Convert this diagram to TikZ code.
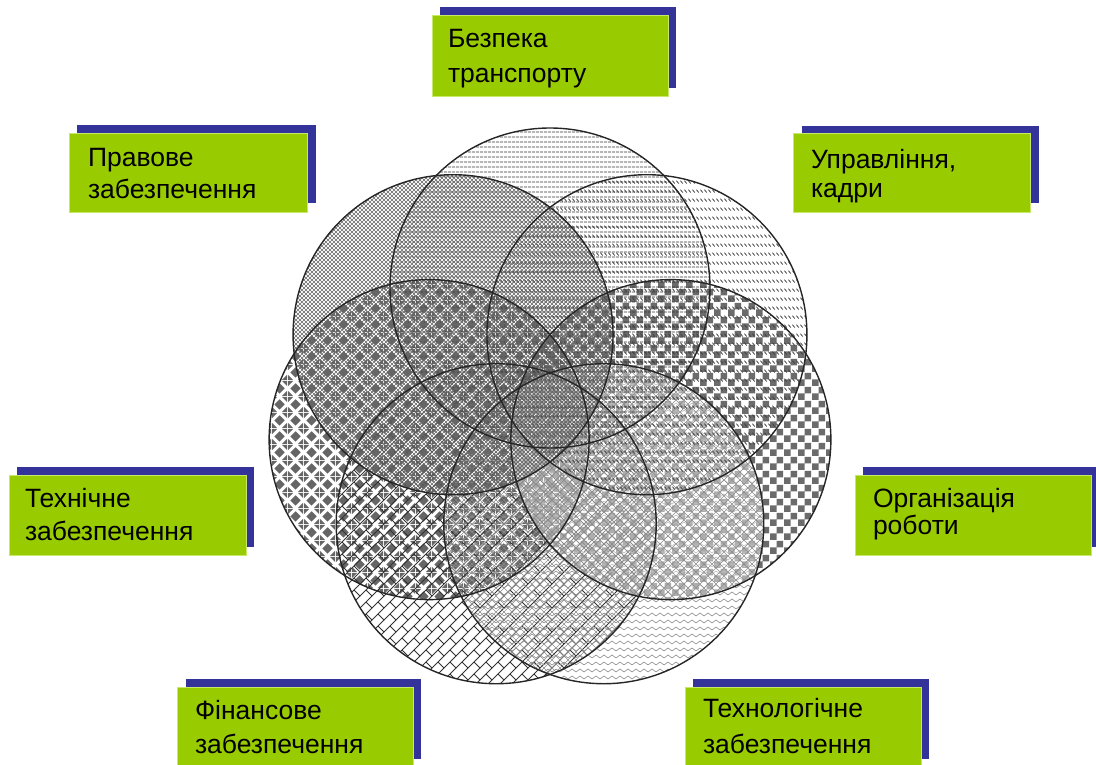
\documentclass[tikz,border=0pt]{standalone}
\usepackage{fontspec}
\setmainfont{Liberation Sans}
\usetikzlibrary{patterns,calc}
\definecolor{boxgreen}{HTML}{99CC00}
\definecolor{boxblue}{HTML}{333399}
\definecolor{boxedge}{HTML}{C8E86A}
\definecolor{ringline}{HTML}{262626}
% patterns (1pt = 1px)
\pgfdeclarepatternformonly{hlinesA}{\pgfpointorigin}{\pgfpoint{4pt}{4.5pt}}{\pgfpoint{4pt}{4.5pt}}{%
  \pgfsetlinewidth{1pt}%
  \pgfpathmoveto{\pgfpoint{0pt}{2.25pt}}\pgfpathlineto{\pgfpoint{4pt}{2.25pt}}\pgfusepath{stroke}}
\pgfdeclarepatternformonly{xhatchB}{\pgfpoint{-1pt}{-1pt}}{\pgfpoint{5pt}{5pt}}{\pgfpoint{4pt}{4pt}}{%
  \pgfsetlinewidth{0.6pt}%
  \pgfpathmoveto{\pgfpoint{0pt}{0pt}}\pgfpathlineto{\pgfpoint{4pt}{4pt}}%
  \pgfpathmoveto{\pgfpoint{0pt}{4pt}}\pgfpathlineto{\pgfpoint{4pt}{0pt}}%
  \pgfusepath{stroke}}
\pgfdeclarepatternformonly{dashC}{\pgfpointorigin}{\pgfpoint{4pt}{9pt}}{\pgfpoint{4pt}{9pt}}{%
  \pgfsetlinewidth{0.9pt}%
  \pgfpathmoveto{\pgfpoint{0.5pt}{8pt}}\pgfpathlineto{\pgfpoint{3.5pt}{5pt}}\pgfusepath{stroke}}
\pgfdeclarepatternformonly{checkD}{\pgfpointorigin}{\pgfpoint{14pt}{14pt}}{\pgfpoint{14pt}{14pt}}{%
  \pgfpathrectangle{\pgfpointorigin}{\pgfpoint{7pt}{7pt}}%
  \pgfpathrectangle{\pgfpoint{7pt}{7pt}}{\pgfpoint{7pt}{7pt}}%
  \pgfusepath{fill}}
\pgfdeclarepatternformonly{diamE}{\pgfpointorigin}{\pgfpoint{16pt}{16pt}}{\pgfpoint{16pt}{16pt}}{%
  \pgfpathmoveto{\pgfpoint{8pt}{2.5pt}}\pgfpathlineto{\pgfpoint{13.5pt}{8pt}}\pgfpathlineto{\pgfpoint{8pt}{13.5pt}}\pgfpathlineto{\pgfpoint{2.5pt}{8pt}}\pgfpathclose
  \pgfpathmoveto{\pgfpoint{0pt}{0pt}}\pgfpathlineto{\pgfpoint{5.5pt}{0pt}}\pgfpathlineto{\pgfpoint{0pt}{5.5pt}}\pgfpathclose
  \pgfpathmoveto{\pgfpoint{16pt}{0pt}}\pgfpathlineto{\pgfpoint{16pt}{5.5pt}}\pgfpathlineto{\pgfpoint{10.5pt}{0pt}}\pgfpathclose
  \pgfpathmoveto{\pgfpoint{0pt}{16pt}}\pgfpathlineto{\pgfpoint{0pt}{10.5pt}}\pgfpathlineto{\pgfpoint{5.5pt}{16pt}}\pgfpathclose
  \pgfpathmoveto{\pgfpoint{16pt}{16pt}}\pgfpathlineto{\pgfpoint{10.5pt}{16pt}}\pgfpathlineto{\pgfpoint{16pt}{10.5pt}}\pgfpathclose
  \pgfusepath{fill}}
\pgfdeclarepatternformonly{brickF}{\pgfpoint{-1pt}{-1pt}}{\pgfpoint{13pt}{13pt}}{\pgfpoint{12pt}{12pt}}{%
  \pgfsetlinewidth{0.8pt}%
  \pgfpathmoveto{\pgfpoint{0pt}{0pt}}\pgfpathlineto{\pgfpoint{12pt}{12pt}}%
  \pgfpathmoveto{\pgfpoint{6pt}{6pt}}\pgfpathlineto{\pgfpoint{12pt}{0pt}}%
  \pgfusepath{stroke}}
\pgfdeclarepatternformonly{zigG}{\pgfpoint{0pt}{-1pt}}{\pgfpoint{8pt}{7pt}}{\pgfpoint{8pt}{7pt}}{%
  \pgfsetlinewidth{0.6pt}%
  \pgfpathmoveto{\pgfpoint{0pt}{1pt}}\pgfpathlineto{\pgfpoint{4pt}{4pt}}\pgfpathlineto{\pgfpoint{8pt}{1pt}}\pgfusepath{stroke}}
\pgfdeclarepatternformonly{xhatchG}{\pgfpoint{-1pt}{-1pt}}{\pgfpoint{9pt}{9pt}}{\pgfpoint{8pt}{8pt}}{%
  \pgfsetlinewidth{0.6pt}%
  \pgfpathmoveto{\pgfpoint{0pt}{0pt}}\pgfpathlineto{\pgfpoint{8pt}{8pt}}%
  \pgfpathmoveto{\pgfpoint{0pt}{8pt}}\pgfpathlineto{\pgfpoint{8pt}{0pt}}%
  \pgfusepath{stroke}}
\tikzset{
  ring/.style={draw=ringline, line width=1.4pt},
  greenbox/.style={fill=boxgreen, draw=boxedge, line width=0.8pt},
  shadowbox/.style={fill=boxblue},
  lbl/.style={anchor=base west, inner sep=0pt, outer sep=0pt, text=black,
    font=\fontsize{26.5}{30}\selectfont},
}
\begin{document}
\begin{tikzpicture}[x=1pt,y=-1pt]
\useasboundingbox (0,0) rectangle (1096,764);
\coordinate (O) at (550,412);
\def\cr{160}
\coordinate (cA) at ($(O)+(-90:124)$);
\coordinate (cC) at ($(O)+(-38.57:124)$);
\coordinate (cD) at ($(O)+(12.86:124)$);
\coordinate (cG) at ($(O)+(64.29:124)$);
\coordinate (cF) at ($(O)+(115.71:124)$);
\coordinate (cE) at ($(O)+(167.14:124)$);
\coordinate (cB) at ($(O)+(218.57:124)$);
% fills
\fill[pattern=checkD, pattern color=black!58] (cD) circle (\cr);
\fill[pattern=diamE, pattern color=black!60] (cE) circle (\cr);
\fill[pattern=brickF, pattern color=black!80] (cF) circle (\cr);
\fill[pattern=zigG, pattern color=black!45] (cG) circle (\cr);
\begin{scope}
  \clip (cG) circle (\cr);
  \fill[white, opacity=0.45] (cD) circle (\cr);
  \fill[pattern=xhatchG, pattern color=black!45] (cD) circle (\cr);
  \fill[pattern=xhatchG, pattern color=black!45] (cF) circle (\cr);
\end{scope}
\fill[pattern=hlinesA, pattern color=black!80] (cA) circle (\cr);
\fill[pattern=dashC, pattern color=black!75] (cC) circle (\cr);
\fill[pattern=xhatchB, pattern color=black!60] (cB) circle (\cr);
% outlines
\foreach \c in {cA,cB,cC,cD,cE,cF,cG}
  \draw[ring] (\c) circle (\cr);
% label boxes
\fill[shadowbox] (440,7) rectangle (676,88);
\fill[greenbox] (432,15) rectangle (668,96);
\node[lbl] (a1) at (448,47) {Безпека};
\node[lbl] (a2) at (448,82) {транспорту};

\fill[shadowbox] (77,125) rectangle (316,203);
\fill[greenbox] (69,133) rectangle (307,212);
\node[lbl] (b1) at (88,166) {Правове};
\node[lbl] (b2) at (88,198) {забезпечення};

\fill[shadowbox] (802,126) rectangle (1039,203);
\fill[greenbox] (793,133) rectangle (1030,212);
\node[lbl] (c1) at (811,168) {Управління,};
\node[lbl] (c2) at (811,197) {кадри};

\fill[shadowbox] (17,467) rectangle (254,547);
\fill[greenbox] (9,475) rectangle (246,555);
\node[lbl] (e1) at (25,507) {Технічне};
\node[lbl] (e2) at (25,540) {забезпечення};

\fill[shadowbox] (863,467) rectangle (1100,547);
\fill[greenbox] (855,475) rectangle (1091,555);
\node[lbl] (d1) at (873,507) {Організація};
\node[lbl] (d2) at (873,534) {роботи};

\fill[shadowbox] (186,679) rectangle (421,759);
\fill[greenbox] (177,687) rectangle (413,770);
\node[lbl] (f1) at (195,719) {Фінансове};
\node[lbl] (f2) at (195,753) {забезпечення};

\fill[shadowbox] (693,679) rectangle (929,759);
\fill[greenbox] (685,687) rectangle (921,770);
\node[lbl] (g1) at (703,717) {Технологічне};
\node[lbl] (g2) at (703,753) {забезпечення};
\end{tikzpicture}
\end{document}
